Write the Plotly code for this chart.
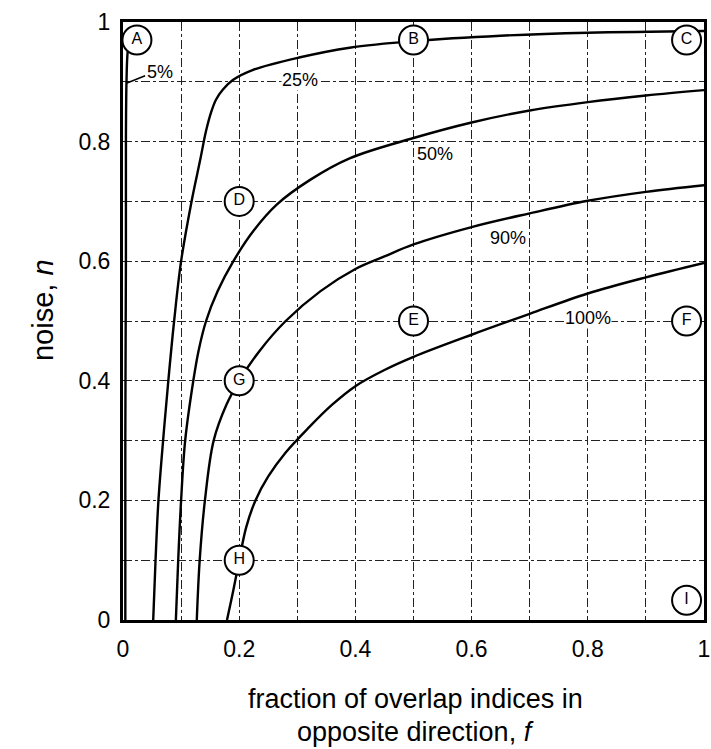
import plotly.graph_objects as go

# Curves of noise n versus fraction f, one per percentage level
f_05 = [0.004, 0.004, 0.005, 0.005, 0.006, 0.008, 0.012, 0.02]
n_05 = [0.0, 0.3, 0.6, 0.8, 0.9, 0.95, 0.975, 0.99]

f_25 = [0.052, 0.056, 0.061, 0.069, 0.078, 0.088, 0.100, 0.118, 0.133, 0.143,
        0.152, 0.160, 0.172, 0.189, 0.224, 0.305, 0.39, 0.5, 0.65, 0.8, 1.0]
n_25 = [0.0, 0.1, 0.2, 0.3, 0.4, 0.5, 0.6, 0.7, 0.77, 0.818,
        0.85, 0.87, 0.887, 0.903, 0.92, 0.941, 0.957, 0.968, 0.977, 0.982, 0.985]

f_50 = [0.091, 0.095, 0.100, 0.107, 0.121, 0.130, 0.143, 0.163, 0.190, 0.224,
        0.265, 0.322, 0.39, 0.5, 0.6, 0.7, 0.8, 0.9, 1.0]
n_50 = [0.0, 0.1, 0.2, 0.3, 0.4, 0.45, 0.5, 0.55, 0.6, 0.65,
        0.695, 0.736, 0.772, 0.806, 0.832, 0.852, 0.866, 0.877, 0.886]

f_90 = [0.127, 0.132, 0.141, 0.156, 0.178, 0.2, 0.235, 0.28, 0.34, 0.40, 0.45,
        0.5, 0.6, 0.7, 0.8, 0.9, 1.0]
n_90 = [0.0, 0.1, 0.2, 0.3, 0.36, 0.4, 0.45, 0.5, 0.55, 0.587, 0.608,
        0.628, 0.657, 0.68, 0.701, 0.716, 0.727]

f_100 = [0.179, 0.19, 0.2, 0.212, 0.228, 0.25, 0.28, 0.32, 0.36, 0.40, 0.45,
         0.5, 0.6, 0.7, 0.8, 0.9, 1.0]
n_100 = [0.0, 0.05, 0.1, 0.155, 0.2, 0.24, 0.28, 0.322, 0.36, 0.391, 0.418,
         0.44, 0.477, 0.512, 0.546, 0.573, 0.597]

# Percentage labels placed along the curves
pct_text = ["25%", "50%", "90%", "100%"]
pct_f = [0.305, 0.537, 0.663, 0.80]
pct_n = [0.903, 0.78, 0.639, 0.505]

# Lettered reference points
pt_letters = ["A", "B", "C", "D", "E", "F", "G", "H", "I"]
pt_f = [0.024, 0.5, 0.97, 0.2, 0.5, 0.97, 0.2, 0.2, 0.97]
pt_n = [0.97, 0.97, 0.97, 0.7, 0.5, 0.5, 0.4, 0.1, 0.033]

tick_vals = [0.0, 0.1, 0.2, 0.3, 0.4, 0.5, 0.6, 0.7, 0.8, 0.9, 1.0]
tick_text = ["0", "", "0.2", "", "0.4", "", "0.6", "", "0.8", "", "1"]

FONT = "Liberation Sans, Arial, sans-serif"

fig = go.Figure()
curve_line = dict(color="black", width=2.4, shape="spline", smoothing=1.0)
for fx, ny in [(f_05, n_05), (f_25, n_25), (f_50, n_50), (f_90, n_90), (f_100, n_100)]:
    fig.add_trace(go.Scatter(x=fx, y=ny, mode="lines", line=curve_line,
                             hoverinfo="skip", showlegend=False))

# leader line for the 5% label
fig.add_trace(go.Scatter(x=[0.007, 0.038], y=[0.898, 0.91], mode="lines",
                         line=dict(color="black", width=1.5),
                         hoverinfo="skip", showlegend=False))

fig.add_trace(go.Scatter(
    x=pt_f, y=pt_n, mode="markers+text", text=pt_letters,
    textposition="middle center",
    textfont=dict(family=FONT, size=16, color="black"),
    marker=dict(size=29, color="white", line=dict(color="black", width=2)),
    hoverinfo="skip", showlegend=False, cliponaxis=False))

fig.add_annotation(x=0.064, y=0.916, text="5%", showarrow=False,
                   font=dict(family=FONT, size=18, color="black"))
for t, fx, ny in zip(pct_text, pct_f, pct_n):
    fig.add_annotation(x=fx, y=ny, text=t, showarrow=False, bgcolor="white",
                       borderpad=0, font=dict(family=FONT, size=18, color="black"))

axis_common = dict(
    range=[0, 1], tickvals=tick_vals, ticktext=tick_text, automargin=False,
    showgrid=True, gridcolor="#222222", gridwidth=1.2, griddash="dashdot",
    showline=True, linecolor="black", linewidth=3, mirror=True,
    zeroline=False, ticks="", tickfont=dict(family=FONT, size=23, color="black"),
)
fig.update_xaxes(**axis_common, ticklabelstandoff=6)
fig.update_yaxes(**axis_common, ticklabelstandoff=5)

fig.add_annotation(xref="paper", yref="paper", x=-0.169, y=0.518,
                   text="noise, <i>n</i>", textangle=-90, showarrow=False,
                   font=dict(family=FONT, size=29, color="black"))
# two-line x-axis title
fig.add_annotation(xref="paper", yref="paper", x=0.503, y=-0.132, yanchor="middle",
                   text="fraction of overlap indices in",
                   showarrow=False, font=dict(family=FONT, size=27, color="black"))
fig.add_annotation(xref="paper", yref="paper", x=0.503, y=-0.187, yanchor="middle",
                   text="opposite direction, <i>f</i>",
                   showarrow=False, font=dict(family=FONT, size=27, color="black"))

fig.update_layout(
    width=711, height=749,
    margin=dict(l=123, r=7, t=22, b=129),
    plot_bgcolor="white", paper_bgcolor="white",
    font=dict(family=FONT, color="black"),
)

fig.write_html("out.html")
